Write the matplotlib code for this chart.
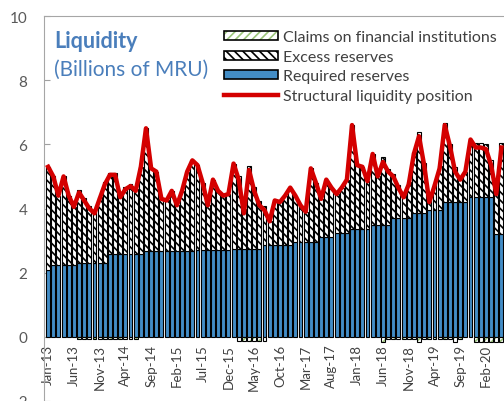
import matplotlib
matplotlib.use('Agg')
import matplotlib.pyplot as plt
from matplotlib.patches import Patch
from matplotlib.lines import Line2D
import numpy as np

plt.rcParams['font.family'] = ['Lato', 'DejaVu Sans']
plt.rcParams['hatch.linewidth'] = 1.2

tick_labels = ['Jan-13', 'Jun-13', 'Nov-13', 'Apr-14', 'Sep-14', 'Feb-15', 'Jul-15',
               'Dec-15', 'May-16', 'Oct-16', 'Mar-17', 'Aug-17', 'Jan-18', 'Jun-18',
               'Nov-18', 'Apr-19', 'Sep-19', 'Feb-20']

required = [2.08, 2.25, 2.25, 2.25, 2.25, 2.25, 2.3, 2.3, 2.3, 2.3,
            2.3, 2.3, 2.58, 2.58, 2.58, 2.58, 2.58, 2.58, 2.58, 2.68,
            2.68, 2.68, 2.68, 2.68, 2.68, 2.68, 2.68, 2.68, 2.68, 2.7,
            2.7, 2.7, 2.7, 2.7, 2.7, 2.7, 2.75, 2.75, 2.75, 2.75,
            2.75, 2.75, 2.85, 2.85, 2.85, 2.85, 2.85, 2.85, 2.95, 2.95,
            2.95, 2.95, 2.95, 3.1, 3.1, 3.1, 3.25, 3.25, 3.25, 3.35,
            3.35, 3.35, 3.35, 3.5, 3.5, 3.5, 3.5, 3.7, 3.7, 3.7,
            3.7, 3.85, 3.85, 3.85, 3.95, 3.95, 3.95, 4.2, 4.2, 4.2,
            4.2, 4.2, 4.35, 4.35, 4.35, 4.35, 4.35, 3.2, 3.2]

excess = [3.22, 2.75, 2.15, 2.75, 2.15, 1.8, 2.27, 2.02, 1.77, 1.62,
          2.07, 2.52, 2.54, 2.54, 1.84, 2.09, 2.19, 2.04, 2.72, 3.82,
          2.57, 2.47, 1.62, 1.57, 1.87, 1.42, 1.87, 2.47, 2.82, 2.65,
          2.1, 1.4, 2.2, 1.85, 1.7, 1.75, 2.65, 2.27, 1.22, 2.57,
          1.92, 1.47, 1.22, 0.75, 1.4, 1.35, 1.55, 1.8, 1.45, 1.15,
          0.95, 2.3, 1.85, 1.2, 1.8, 1.55, 1.2, 1.4, 1.65, 3.25,
          2.0, 1.95, 1.5, 2.2, 1.5, 2.1, 1.72, 1.37, 1.02, 0.72,
          1.12, 1.92, 2.55, 1.57, 0.32, 0.82, 1.37, 2.47, 1.82, 1.1,
          0.77, 0.95, 1.8, 1.7, 1.7, 1.65, 1.15, 1.4, 2.85]

claims = [0, 0, 0, 0, 0, 0, -0.07, -0.07, -0.07, -0.07,
          -0.07, -0.07, -0.07, -0.07, -0.07, -0.07, -0.07, -0.07, 0, 0,
          0, 0, 0, 0, 0, 0, 0, 0, 0, 0,
          0, 0, 0, 0, 0, 0, 0, -0.12, -0.12, -0.12,
          -0.12, -0.12, -0.12, 0, 0, 0, 0, 0, 0, 0,
          0, 0, 0, 0, 0, 0, 0, 0, 0, 0,
          0, 0, 0, 0, 0, -0.15, -0.07, -0.07, -0.07, -0.07,
          -0.07, -0.07, -0.15, -0.07, -0.07, -0.07, -0.07, -0.07, -0.07, -0.15,
          -0.07, 0, 0, -0.15, -0.15, -0.15, -0.15, -0.15, -0.15]

structural = [5.3, 5.0, 4.4, 5.0, 4.4, 4.05, 4.5, 4.25, 4.0, 3.85,
              4.3, 4.75, 5.05, 5.05, 4.35, 4.6, 4.7, 4.55, 5.3, 6.5,
              5.25, 5.15, 4.3, 4.25, 4.55, 4.1, 4.55, 5.15, 5.5, 5.35,
              4.8, 4.1, 4.9, 4.55, 4.4, 4.45, 5.4, 4.9, 3.85, 5.2,
              4.55, 4.1, 3.95, 3.6, 4.25, 4.2, 4.4, 4.65, 4.4, 4.1,
              3.9, 5.25, 4.8, 4.3, 4.9, 4.65, 4.45, 4.65, 4.9, 6.6,
              5.35, 5.3, 4.85, 5.7, 5.0, 5.45, 5.15, 5.0, 4.65, 4.35,
              4.75, 5.7, 6.25, 5.35, 4.2, 4.7, 5.25, 6.6, 5.95, 5.15,
              4.9, 5.15, 6.15, 5.9, 5.9, 5.85, 5.35, 4.45, 5.9]

req = np.array(required)
exc = np.array(excess)
clm = np.array(claims)
x = np.arange(len(req))

BLUE = '#438DC6'
RED = '#D40000'
GREEN = '#9CC57C'
W = 0.76

fig = plt.figure(figsize=(5.04, 4.02), dpi=100)
ax = fig.add_axes([44 / 504, 0, 1 - 44 / 504, 385 / 402])

ax.spines['bottom'].set_position(('data', 0))
ax.spines['bottom'].set_visible(False)
ax.spines['right'].set_visible(False)
ax.spines['left'].set_color('#A6A6A6')
ax.spines['top'].set_color('#A6A6A6')

ax.bar(x, req, width=W, color=BLUE, edgecolor='black', linewidth=0.8, zorder=2)
ax.bar(x, exc, bottom=req, width=W, color='white', edgecolor='black',
       hatch=r'\\\\', linewidth=0.8, zorder=2)
mask = clm != 0
cb = np.where(clm > 0, req + exc, 0)
ax.bar(x[mask], clm[mask], bottom=cb[mask], width=W, color='white', edgecolor=GREEN,
       hatch='////', linewidth=0, zorder=2)
ax.bar(x[mask], clm[mask], bottom=cb[mask], width=W, fill=False, edgecolor='black',
       linewidth=0.8, zorder=3)

ax.plot(x, structural, color=RED, lw=3.2, solid_joinstyle='round', zorder=5)

ax.set_xlim(-0.8, 88.5)
ax.set_ylim(-2, 10)
ax.set_yticks([-2, 0, 2, 4, 6, 8, 10])
ax.set_yticklabels(['-2', '0', '2', '4', '6', '8', '10'])
ax.tick_params(axis='y', direction='in', length=4, color='#A0A0A0', pad=12,
               labelsize=11, labelcolor='#595959')
ax.set_xticks(x[::5][:len(tick_labels)])
ax.set_xticklabels(tick_labels)
ax.tick_params(axis='x', length=0, pad=5, labelsize=9.5, labelcolor='#404040',
               labelrotation=90)

fig.text(54 / 504, 1 - 42 / 402, 'Liquidity', fontsize=15.5, weight='bold',
         color='#4A7EBB', va='center', ha='left')
fig.text(54 / 504, 1 - 70 / 402, '(Billions of MRU)', fontsize=15,
         color='#4A7EBB', va='center', ha='left')

h_claims = (Patch(facecolor='white', edgecolor=GREEN, hatch='////', lw=0),
            Patch(fill=False, edgecolor='black', lw=1.2))
h_excess = Patch(facecolor='white', edgecolor='black', hatch=r'\\\\', lw=1.2)
h_req = Patch(facecolor=BLUE, edgecolor='black', lw=1.2)
h_line = Line2D([], [], color=RED, lw=3.2)
leg = ax.legend([h_claims, h_excess, h_req, h_line],
                ['Claims on financial institutions', 'Excess reserves',
                 'Required reserves', 'Structural liquidity position'],
                loc='upper left', bbox_to_anchor=(224 / 504, 1 - 31 / 402),
                bbox_transform=fig.transFigure, frameon=False, borderpad=0,
                borderaxespad=0, handlelength=3.4, handleheight=0.5,
                handletextpad=0.3, labelspacing=0.36, fontsize=11.5)
for t in leg.get_texts():
    t.set_color('#404040')

fig.savefig('out.png', dpi=100)
